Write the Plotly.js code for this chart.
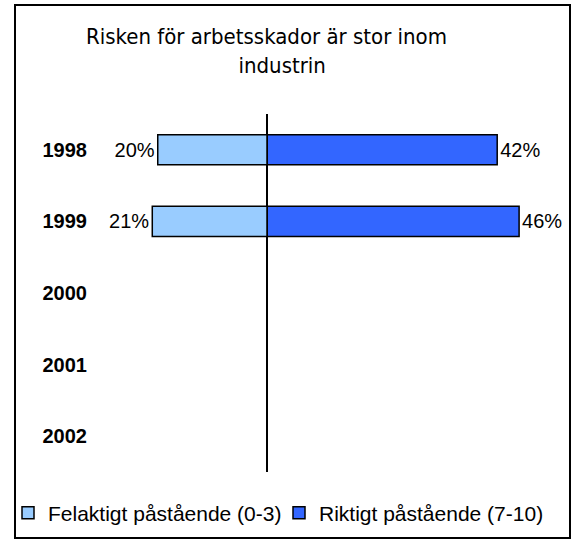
<!DOCTYPE html>
<html>
<head>
<meta charset="utf-8">
<script src="https://cdn.plot.ly/plotly-3.0.1.min.js"></script>
<style>
  html, body { margin: 0; padding: 0; background: #fff; }
  #chart { width: 575px; height: 541px; }
</style>
</head>
<body>
<div id="chart"></div>
<script>
// ---- data ----
const years = ['1998', '1999', '2000', '2001', '2002'];
const felaktigt = [20, 21, null, null, null];   // Felaktigt påstående (0-3), drawn to the left
const riktigt = [42, 46, null, null, null];     // Riktigt påstående (7-10), drawn to the right
const seriesNames = ['Felaktigt påstående (0-3)', 'Riktigt påstående (7-10)'];
const titleLine1 = 'Risken för arbetsskador är stor inom';
const titleLine2 = 'industrin';

// ---- layout constants ----
const W = 575, H = 541;
const L = 103, R = 33.6, T = 113.7, B = 69.2;

const pct = v => (v == null ? '' : v + '%');

const labelFont = { family: 'Liberation Sans, Arial, sans-serif', size: 20, color: '#000' };
const legendFont = { family: 'Liberation Sans, Arial, sans-serif', size: 21, color: '#000' };

const traces = [
  {
    type: 'bar', orientation: 'h', name: seriesNames[0], legend: 'legend',
    y: years, x: felaktigt.map(v => (v == null ? null : -v)),
    text: felaktigt.map(pct), textposition: 'outside', cliponaxis: false,
    constraintext: 'none', textfont: labelFont,
    marker: { color: '#99CCFF', line: { color: '#000', width: 1.5 } },
    width: 0.42, hoverinfo: 'skip'
  },
  {
    type: 'bar', orientation: 'h', name: seriesNames[1], legend: 'legend2',
    y: years, x: riktigt,
    text: riktigt.map(pct), textposition: 'outside', cliponaxis: false,
    constraintext: 'none', textfont: labelFont,
    marker: { color: '#3366FF', line: { color: '#000', width: 1.5 } },
    width: 0.42, hoverinfo: 'skip'
  }
];

const nb = '\u00A0';
const legendCommon = {
  orientation: 'h', xref: 'container', yref: 'container',
  xanchor: 'left', y: (H - 513) / H, yanchor: 'middle',
  font: legendFont, itemwidth: 30, bgcolor: 'rgba(0,0,0,0)', borderwidth: 0
};
const layout = {
  width: W, height: H,
  margin: { l: L, r: R, t: T, b: B, pad: 0 },
  paper_bgcolor: '#fff', plot_bgcolor: '#fff',
  barmode: 'relative',
  showlegend: true,
  title: {
    text: titleLine1 + '<br>' + nb.repeat(5) + titleLine2,
    font: { family: 'DejaVu Sans Condensed, DejaVu Sans, sans-serif', size: 22, color: '#000' },
    x: 266.5 / W, xanchor: 'center', xref: 'container',
    y: 1 - 44 / H, yanchor: 'top', yref: 'container'
  },
  xaxis: {
    range: [-30, 50], showgrid: false, showticklabels: false, ticks: '',
    zeroline: true, zerolinecolor: '#000', zerolinewidth: 2, showline: false, fixedrange: true
  },
  yaxis: {
    type: 'category', categoryorder: 'array', categoryarray: years,
    autorange: 'reversed', showgrid: false, zeroline: false, showline: false, ticks: '',
    ticklabelstandoff: 15,
    tickfont: { family: 'Liberation Sans, Arial, sans-serif', size: 20, color: '#000', weight: 'bold' },
    fixedrange: true
  },
  legend: Object.assign({}, legendCommon, { x: 8 / W }),
  legend2: Object.assign({}, legendCommon, { x: 279 / W })
};

Plotly.newPlot('chart', traces, layout, { displayModeBar: false, staticPlot: true }).then(gd => {
  // outer chart frame, placed in pixels from the actual plot-area size
  const s = gd._fullLayout._size;
  const fx = p => (p - s.l) / s.w;
  const fy = p => (s.t + s.h - p) / s.h;
  return Plotly.relayout(gd, {
    shapes: [{
      type: 'rect', xref: 'paper', yref: 'paper',
      x0: fx(15), x1: fx(570), y0: fy(538), y1: fy(5),
      line: { color: '#000', width: 2 }, fillcolor: 'rgba(0,0,0,0)', layer: 'above'
    }]
  });
});
</script>
</body>
</html>
